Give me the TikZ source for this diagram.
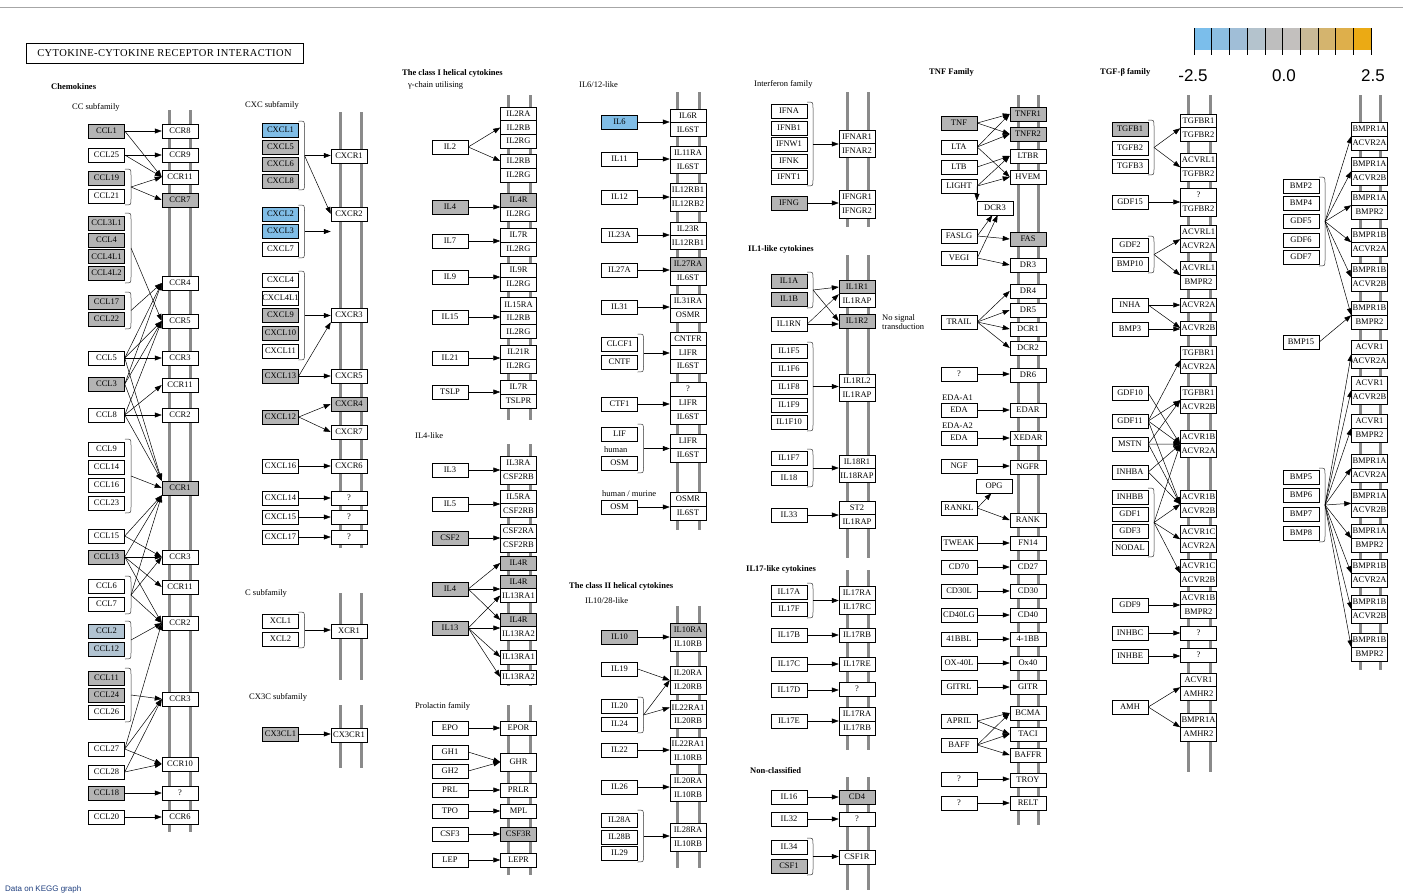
\documentclass[tikz,border=0pt]{standalone}
\usepackage{fontspec}
\setmainfont{Liberation Serif}
\newfontfamily\kbarfont{Liberation Sans}
\usetikzlibrary{arrows.meta}
\definecolor{kgray}{HTML}{B4B4B4}
\definecolor{kblue}{HTML}{80BDE6}
\definecolor{kpale}{HTML}{B2C4D2}
\definecolor{kmemc}{HTML}{8A8A8A}
\definecolor{cbA}{HTML}{7BBEEB}
\definecolor{cbB}{HTML}{8CBEE1}
\definecolor{cbC}{HTML}{A0BED7}
\definecolor{cbD}{HTML}{B4C3CD}
\definecolor{cbE}{HTML}{BEBEBE}
\definecolor{cbF}{HTML}{C3C0BE}
\definecolor{cbG}{HTML}{C8B996}
\definecolor{cbH}{HTML}{D4B46E}
\definecolor{cbI}{HTML}{DEAF4B}
\definecolor{cbJ}{HTML}{EBAA14}
\definecolor{kdata}{HTML}{1F3F7F}
\newcommand{\kf}{\fontsize{8.5}{9}\selectfont}
\newcommand{\klf}{\fontsize{8.5}{9}\selectfont}
\newcommand{\khf}{\fontsize{8.5}{9}\selectfont\bfseries}
\newcommand{\kb}[5][]{\node[kb,#1] (#2) at (#3,#4) {#5};}
\newcommand{\ka}[2]{\draw[arr] (#1) -- (#2);}
\newcommand{\kha}[2]{\draw[arr] (#1.east) -- (#1.east -| #2.west);}
\newcommand{\khb}[2]{\draw[arr] (#1) -- (#1 -| #2.west);}
\newcommand{\kbr}[4]{\draw[brk] (#2,#3) .. controls (#2+6,#3) .. (#2+6,#3+6) -- (#2+6,#4-6) .. controls (#2+6,#4) .. (#2,#4); \coordinate (#1) at (#2+6,{(#3+#4)/2});}
\newcommand{\kmem}[4]{\draw[mem] (#1,#3) -- (#1,#4); \draw[mem] (#2,#3) -- (#2,#4);}
\begin{document}
\begin{tikzpicture}[x=1pt,y=-1pt,
 kb/.style={draw=black,line width=0.5pt,fill=white,minimum width=36pt,minimum height=14pt,inner sep=0pt,font=\kf},
 kgy/.style={fill=kgray}, kbl/.style={fill=kblue}, kpb/.style={fill=kpale},
 arr/.style={-{Triangle[length=7pt,width=5pt]},line width=0.5pt},
 brk/.style={line width=0.5pt,draw=black!80},
 mem/.style={line width=3pt,draw=kmemc},
 lab/.style={anchor=west,inner sep=0pt,font=\klf},
 hdr/.style={anchor=west,inner sep=0pt,font=\khf}]
\useasboundingbox (0,0) rectangle (1403,895);
\clip (0,0) rectangle (1403,895);
\fill[white] (0,0) rectangle (1403,895);
\draw[black!35,line width=1pt] (0,7) -- (1403,7);
% membranes
\kmem{169}{190}{110}{832}
\kmem{340}{361}{112}{548}
\kmem{340}{361}{593}{680}
\kmem{340}{361}{705}{768}
\kmem{508}{530}{95}{420}
\kmem{508}{530}{444}{686}
\kmem{508}{530}{705}{875}
\kmem{677}{699}{92}{530}
\kmem{677}{699}{606}{868}
\kmem{847}{868}{92}{227}
\kmem{847}{868}{255}{558}
\kmem{847}{868}{570}{750}
\kmem{847}{868}{777}{890}
\kmem{1018}{1038}{95}{825}
\kmem{1188}{1210}{95}{772}
\kmem{1360}{1380}{95}{670}
% title and color bar
\node[draw,line width=1pt,minimum width=277pt,minimum height=20pt,inner sep=0pt,font=\fontsize{10.5}{11}\selectfont\addfontfeatures{LetterSpace=4}] (title) at (164.5,53) {CYTOKINE-CYTOKINE RECEPTOR INTERACTION};
\foreach \c [count=\i from 0] in {cbA,cbB,cbC,cbD,cbE,cbF,cbG,cbH,cbI,cbJ} {\fill[\c] (1194+\i*17.7,28) rectangle (1194+\i*17.7+17.7,50);}
\foreach \i in {0,...,10} {\draw[line width=0.6pt] (1194+\i*17.7,28) -- (1194+\i*17.7,55);}
\node[font=\kbarfont\fontsize{17}{17}\selectfont] (cbl) at (1193,76) {-2.5};
\node[font=\kbarfont\fontsize{17}{17}\selectfont] (cbm) at (1284,76) {0.0};
\node[font=\kbarfont\fontsize{17}{17}\selectfont] (cbr) at (1373,76) {2.5};
% headers
\node[hdr] (hchem) at (51,87) {Chemokines};
\node[lab] (hcc) at (72,107) {CC subfamily};
\node[lab] (hcxc) at (245,105) {CXC subfamily};
\node[lab] (hc) at (245,593) {C subfamily};
\node[lab] (hcx3c) at (249,697) {CX3C subfamily};
\node[hdr] (hcl1) at (402,73) {The class I helical cytokines};
\node[lab] (hgam) at (408,85) {γ-chain utilising};
\node[lab] (hil4) at (415,436) {IL4-like};
\node[lab] (hprl) at (415,706) {Prolactin family};
\node[lab] (hil6) at (579,85) {IL6/12-like};
\node[hdr] (hcl2) at (569,586) {The class II helical cytokines};
\node[lab] (hil10) at (585,601) {IL10/28-like};
\node[lab] (hifn) at (754,84) {Interferon family};
\node[hdr] (hil1) at (748,249) {IL1-like cytokines};
\node[lab] (hnos1) at (882,318) {No signal};
\node[lab] (hnos2) at (882,327) {transduction};
\node[hdr] (hil17) at (746,569) {IL17-like cytokines};
\node[hdr] (hnc) at (750,771) {Non-classified};
\node[hdr] (htnf) at (929,72) {TNF Family};
\node[hdr] (htgf) at (1100,72) {TGF-β family};
\node[lab] (hhum) at (604,450) {human};
\node[lab] (hhm) at (602,494) {human / murine};
\node[lab] (heda1) at (942,398) {EDA-A1};
\node[lab] (heda2) at (942,426) {EDA-A2};
\node[anchor=west,inner sep=0pt,text=kdata,font=\kbarfont\fontsize{8}{8}\selectfont] (hdata) at (5,889) {Data on KEGG graph};
% ===== CC subfamily =====
\kb[kgy]{ccl1}{106.5}{131}{CCL1}
\kb{ccl25}{106.5}{155}{CCL25}
\kb[kgy]{ccl19}{106.5}{178}{CCL19}
\kb{ccl21}{106.5}{196}{CCL21}
\kb[kgy]{ccl3l1}{106.5}{223}{CCL3L1}
\kb[kgy]{ccl4}{106.5}{240}{CCL4}
\kb[kgy]{ccl4l1}{106.5}{256.5}{CCL4L1}
\kb[kgy]{ccl4l2}{106.5}{273}{CCL4L2}
\kb[kgy]{ccl17}{106.5}{302}{CCL17}
\kb[kgy]{ccl22}{106.5}{319}{CCL22}
\kb{ccl5}{106.5}{358}{CCL5}
\kb[kgy]{ccl3}{106.5}{384}{CCL3}
\kb{ccl8}{106.5}{415}{CCL8}
\kb{ccl9}{106.5}{449}{CCL9}
\kb{ccl14}{106.5}{467}{CCL14}
\kb{ccl16}{106.5}{485}{CCL16}
\kb{ccl23}{106.5}{503}{CCL23}
\kb{ccl15}{106.5}{536}{CCL15}
\kb[kgy]{ccl13}{106.5}{557}{CCL13}
\kb{ccl6}{106.5}{586}{CCL6}
\kb{ccl7}{106.5}{604}{CCL7}
\kb[kpb]{ccl2}{106.5}{631}{CCL2}
\kb[kpb]{ccl12}{106.5}{649}{CCL12}
\kb[kgy]{ccl11}{106.5}{678}{CCL11}
\kb[kgy]{ccl24}{106.5}{695}{CCL24}
\kb{ccl26}{106.5}{712}{CCL26}
\kb{ccl27}{106.5}{749}{CCL27}
\kb{ccl28}{106.5}{772}{CCL28}
\kb[kgy]{ccl18}{106.5}{793}{CCL18}
\kb{ccl20}{106.5}{817}{CCL20}
\kb{ccr8}{180}{131}{CCR8}
\kb{ccr9}{180}{155}{CCR9}
\kb{ccr11a}{180}{177}{CCR11}
\kb[kgy]{ccr7}{180}{200}{CCR7}
\kb{ccr4}{180}{283}{CCR4}
\kb{ccr5}{180}{321}{CCR5}
\kb{ccr3a}{180}{358}{CCR3}
\kb{ccr11b}{180}{385}{CCR11}
\kb{ccr2a}{180}{415}{CCR2}
\kb[kgy]{ccr1}{180}{488}{CCR1}
\kb{ccr3b}{180}{557}{CCR3}
\kb{ccr11c}{180}{587}{CCR11}
\kb{ccr2b}{180}{623}{CCR2}
\kb{ccr3c}{180}{699}{CCR3}
\kb{ccr10}{180}{764}{CCR10}
\kb{ccq}{180}{793}{?}
\kb{ccr6}{180}{817}{CCR6}
\kbr{b19}{125}{169}{205}
\kbr{b3l1}{125}{213}{283}
\kbr{b17}{125}{292}{329}
\kbr{b9}{125}{439}{513}
\kbr{b6}{125}{576}{614}
\kbr{b2}{125}{621}{659}
\kbr{b11}{125}{668}{722}
\kha{ccl1}{ccr8} \ka{ccl1.east}{ccr11a.west}
\kha{ccl25}{ccr9} \ka{ccl25.east}{ccr11a.west}
\ka{b19}{ccr11a.west} \ka{b19}{ccr7.west}
\ka{b3l1}{ccr5.west}
\ka{b17}{ccr4.west}
\kha{ccl5}{ccr3a} \ka{ccl5.east}{ccr4.west} \ka{ccl5.east}{ccr5.west} \ka{ccl5.east}{ccr1.north west}
\ka{ccl3.east}{ccr4.west} \ka{ccl3.east}{ccr5.west} \ka{ccl3.east}{ccr1.north west}
\ka{ccl8.east}{ccr5.west} \ka{ccl8.east}{ccr11b.west} \kha{ccl8}{ccr2a} \ka{ccl8.east}{ccr1.north west}
\ka{b9}{ccr1.west}
\ka{ccl15.east}{ccr1.south west} \ka{ccl15.east}{ccr3b.west}
\ka{ccl13.east}{ccr1.south west} \kha{ccl13}{ccr3b} \ka{ccl13.east}{ccr11c.west} \ka{ccl13.east}{ccr2b.west}
\ka{b6}{ccr1.south west} \ka{b6}{ccr3b.west} \ka{b6}{ccr2b.west}
\ka{b2}{ccr2b.west}
\ka{b11}{ccr3c.west}
\ka{ccl27.east}{ccr2b.west} \ka{ccl27.east}{ccr3c.west} \ka{ccl27.east}{ccr10.west}
\ka{ccl28.east}{ccr3c.west} \ka{ccl28.east}{ccr10.west}
\kha{ccl18}{ccq} \kha{ccl20}{ccr6}
% ===== CXC / C / CX3C =====
\kb[kbl]{cxcl1}{280.5}{130}{CXCL1}
\kb[kgy]{cxcl5}{280.5}{147}{CXCL5}
\kb[kgy]{cxcl6}{280.5}{164}{CXCL6}
\kb[kgy]{cxcl8}{280.5}{181}{CXCL8}
\kb[kbl]{cxcl2}{280.5}{214}{CXCL2}
\kb[kbl]{cxcl3}{280.5}{231}{CXCL3}
\kb{cxcl7}{280.5}{249}{CXCL7}
\kb{cxcl4}{280.5}{280}{CXCL4}
\kb{cxcl4l1}{280.5}{298}{CXCL4L1}
\kb[kgy]{cxcl9}{280.5}{315}{CXCL9}
\kb[kgy]{cxcl10}{280.5}{333}{CXCL10}
\kb{cxcl11}{280.5}{351}{CXCL11}
\kb[kgy]{cxcl13}{280.5}{376}{CXCL13}
\kb[kgy]{cxcl12}{280.5}{417}{CXCL12}
\kb{cxcl16}{280.5}{466}{CXCL16}
\kb{cxcl14}{280.5}{498}{CXCL14}
\kb{cxcl15}{280.5}{517}{CXCL15}
\kb{cxcl17}{280.5}{537}{CXCL17}
\kb{xcl1}{280.5}{621}{XCL1}
\kb{xcl2}{280.5}{639}{XCL2}
\kb[kgy]{cx3cl1}{280.5}{734}{CX3CL1}
\kb{cxcr1}{349}{156}{CXCR1}
\kb{cxcr2}{349}{214}{CXCR2}
\kb{cxcr3}{349}{315}{CXCR3}
\kb{cxcr5}{349}{376}{CXCR5}
\kb[kgy]{cxcr4}{349}{404}{CXCR4}
\kb{cxcr7}{349}{432}{CXCR7}
\kb{cxcr6}{349}{466}{CXCR6}
\kb{cxq1}{349}{498}{?}
\kb{cxq2}{349}{517}{?}
\kb{cxq3}{349}{537}{?}
\kb{xcr1}{349}{631}{XCR1}
\kb{cx3cr1}{349}{735}{CX3CR1}
\kbr{bc1}{298.5}{121}{190}
\kbr{bc2}{298.5}{205}{258}
\kbr{bc4}{298.5}{271}{360}
\kbr{bx}{298.5}{612}{648}
\khb{bc1}{cxcr1} \ka{bc1}{cxcr2.west}
\khb{bc2}{cxcr2}
\khb{bc4}{cxcr3}
\ka{cxcl13.east}{cxcr3.south west} \kha{cxcl13}{cxcr5}
\ka{cxcl12.east}{cxcr4.west} \ka{cxcl12.east}{cxcr7.west}
\kha{cxcl16}{cxcr6} \kha{cxcl14}{cxq1} \kha{cxcl15}{cxq2} \kha{cxcl17}{cxq3}
\khb{bx}{xcr1}
\kha{cx3cl1}{cx3cr1}
% ===== class I: gamma chain =====
\kb{il2}{450}{147}{IL2}
\kb{il2ra}{518.5}{114}{IL2RA}
\kb{il2rb}{518.5}{127.5}{IL2RB}
\kb{il2rg}{518.5}{141}{IL2RG}
\kb{il2rbb}{518.5}{161}{IL2RB}
\kb{il2rgb}{518.5}{175}{IL2RG}
\kb[kgy]{il4}{450}{207}{IL4}
\kb[kgy]{il4r}{518.5}{200}{IL4R}
\kb{il2rgc}{518.5}{214}{IL2RG}
\kb{il7}{450}{241}{IL7}
\kb{il7r}{518.5}{235}{IL7R}
\kb{il2rgd}{518.5}{249}{IL2RG}
\kb{il9}{450}{277}{IL9}
\kb{il9r}{518.5}{270}{IL9R}
\kb{il2rge}{518.5}{284}{IL2RG}
\kb{il15}{450}{317}{IL15}
\kb{il15ra}{518.5}{304.5}{IL15RA}
\kb{il2rbc}{518.5}{318}{IL2RB}
\kb{il2rgf}{518.5}{331.5}{IL2RG}
\kb{il21}{450}{358}{IL21}
\kb{il21r}{518.5}{352}{IL21R}
\kb{il2rgg}{518.5}{366}{IL2RG}
\kb{tslp}{450}{392}{TSLP}
\kb{il7rb}{518.5}{387}{IL7R}
\kb{tslpr}{518.5}{401}{TSLPR}
\ka{il2.east}{il2rb.west} \ka{il2.east}{il2rbb.west}
\kha{il4}{il4r} \kha{il7}{il7r} \kha{il9}{il9r} \kha{il15}{il2rbc} \kha{il21}{il21r} \kha{tslp}{tslpr}
% ===== IL4-like =====
\kb{il3}{450}{470}{IL3}
\kb{il3ra}{518.5}{463}{IL3RA}
\kb{csf2rb}{518.5}{477}{CSF2RB}
\kb{il5}{450}{504}{IL5}
\kb{il5ra}{518.5}{497}{IL5RA}
\kb{csf2rbb}{518.5}{510.5}{CSF2RB}
\kb[kgy]{csf2}{450}{538}{CSF2}
\kb{csf2ra}{518.5}{531}{CSF2RA}
\kb{csf2rbc}{518.5}{545}{CSF2RB}
\kb[kgy]{il4rb}{518.5}{563}{IL4R}
\kb[kgy]{il4b}{450}{589}{IL4}
\kb[kgy]{il4rc}{518.5}{582}{IL4R}
\kb{il13ra1}{518.5}{595.5}{IL13RA1}
\kb[kgy]{il13}{450}{628}{IL13}
\kb[kgy]{il4rd}{518.5}{620}{IL4R}
\kb{il13ra2}{518.5}{633.5}{IL13RA2}
\kb{il13ra1b}{518.5}{657}{IL13RA1}
\kb{il13ra2b}{518.5}{677}{IL13RA2}
\kha{il3}{il3ra} \kha{il5}{il5ra} \kha{csf2}{csf2ra}
\ka{il4b.east}{il4rb.west} \kha{il4b}{il4rc} \ka{il4b.east}{il4rd.west}
\ka{il13.east}{il13ra1.west} \kha{il13}{il4rd} \ka{il13.east}{il13ra1b.west} \ka{il13.east}{il13ra2b.west}
% ===== Prolactin family =====
\kb{epo}{450}{728}{EPO}
\kb{epor}{518.5}{728}{EPOR}
\kb{gh1}{450}{752}{GH1}
\kb{gh2}{450}{771}{GH2}
\kb[minimum height=18pt]{ghr}{518.5}{762}{GHR}
\kb{prl}{450}{790}{PRL}
\kb{prlr}{518.5}{790}{PRLR}
\kb{tpo}{450}{811}{TPO}
\kb{mpl}{518.5}{811}{MPL}
\kb{csf3}{450}{834}{CSF3}
\kb[kgy]{csf3r}{518.5}{834}{CSF3R}
\kb{lep}{450}{860}{LEP}
\kb{lepr}{518.5}{860}{LEPR}
\kha{epo}{epor} \ka{gh1.east}{ghr.west} \ka{gh2.east}{ghr.west} \kha{prl}{prlr} \kha{tpo}{mpl} \kha{csf3}{csf3r} \kha{lep}{lepr}
% ===== IL6/12-like =====
\kb[kbl]{il6}{619.5}{122}{IL6}
\kb{il6r}{688}{116}{IL6R}
\kb{il6st}{688}{129.5}{IL6ST}
\kb{il11}{619.5}{159}{IL11}
\kb{il11ra}{688}{153}{IL11RA}
\kb{il6stb}{688}{166.5}{IL6ST}
\kb{il12}{619.5}{197}{IL12}
\kb{il12rb1}{688}{190}{IL12RB1}
\kb{il12rb2}{688}{204}{IL12RB2}
\kb{il23a}{619.5}{235}{IL23A}
\kb{il23r}{688}{229}{IL23R}
\kb{il12rb1b}{688}{242.5}{IL12RB1}
\kb{il27a}{619.5}{270}{IL27A}
\kb[kgy]{il27ra}{688}{264}{IL27RA}
\kb{il6stc}{688}{278}{IL6ST}
\kb{il31}{619.5}{307}{IL31}
\kb{il31ra}{688}{301}{IL31RA}
\kb{osmr}{688}{315}{OSMR}
\kb{clcf1}{619.5}{344}{CLCF1}
\kb{cntf}{619.5}{362}{CNTF}
\kb{cntfr}{688}{339}{CNTFR}
\kb{lifr}{688}{352.5}{LIFR}
\kb{il6std}{688}{366}{IL6ST}
\kb{ctf1}{619.5}{404}{CTF1}
\kb{q6}{688}{389}{?}
\kb{lifrb}{688}{403}{LIFR}
\kb{il6ste}{688}{417}{IL6ST}
\kb{lif}{619.5}{434}{LIF}
\kb{osm}{619.5}{463}{OSM}
\kb{lifrc}{688}{441}{LIFR}
\kb{il6stf}{688}{455}{IL6ST}
\kb{osmb}{619.5}{507}{OSM}
\kb{osmrb}{688}{499}{OSMR}
\kb{il6stg}{688}{513}{IL6ST}
\kbr{bcl}{637.5}{334}{372}
\kbr{blif}{637.5}{424}{473}
\kha{il6}{il6r} \kha{il11}{il11ra} \kha{il12}{il12rb1} \kha{il23a}{il23r} \kha{il27a}{il27ra} \kha{il31}{il31ra}
\khb{bcl}{lifr} \kha{ctf1}{lifrb} \khb{blif}{lifrc} \kha{osmb}{osmrb}
% ===== class II =====
\kb[kgy]{il10}{619.5}{637}{IL10}
\kb[kgy]{il10ra}{688}{630}{IL10RA}
\kb{il10rb}{688}{644}{IL10RB}
\kb{il19}{619.5}{669}{IL19}
\kb{il20ra}{688}{673}{IL20RA}
\kb{il20rb}{688}{687}{IL20RB}
\kb{il20}{619.5}{706}{IL20}
\kb{il24}{619.5}{724}{IL24}
\kb{il22ra1}{688}{707.5}{IL22RA1}
\kb{il20rbb}{688}{721}{IL20RB}
\kb{il22}{619.5}{750}{IL22}
\kb{il22ra1b}{688}{744}{IL22RA1}
\kb{il10rbb}{688}{757.5}{IL10RB}
\kb{il26}{619.5}{787}{IL26}
\kb{il20rab}{688}{781}{IL20RA}
\kb{il10rbc}{688}{794.5}{IL10RB}
\kb{il28a}{619.5}{820}{IL28A}
\kb{il28b}{619.5}{837}{IL28B}
\kb{il29}{619.5}{853}{IL29}
\kb{il28ra}{688}{830}{IL28RA}
\kb{il10rbd}{688}{844}{IL10RB}
\kbr{b20}{637.5}{697}{733}
\kbr{b28}{637.5}{810}{862}
\kha{il10}{il10ra} \ka{il19.east}{il20ra.south west} \ka{b20}{il20ra.south west} \ka{b20}{il22ra1.west}
\kha{il22}{il22ra1b} \kha{il26}{il20rab} \khb{b28}{il28ra}
% ===== Interferon =====
\kb{ifna}{789}{111}{IFNA}
\kb{ifnb1}{789}{128}{IFNB1}
\kb{ifnw1}{789}{144}{IFNW1}
\kb{ifnk}{789}{161}{IFNK}
\kb{ifnt1}{789}{177}{IFNT1}
\kb{ifnar1}{857}{137}{IFNAR1}
\kb{ifnar2}{857}{150.5}{IFNAR2}
\kb[kgy]{ifng}{789}{203}{IFNG}
\kb{ifngr1}{857}{197}{IFNGR1}
\kb{ifngr2}{857}{211}{IFNGR2}
\kbr{bifn}{807}{102}{186}
\khb{bifn}{ifnar1} \kha{ifng}{ifngr1}
% ===== IL1-like =====
\kb[kgy]{il1a}{789}{281}{IL1A}
\kb[kgy]{il1b}{789}{299}{IL1B}
\kb{il1rn}{789}{324}{IL1RN}
\kb[kgy]{il1r1}{857}{287}{IL1R1}
\kb{il1rap}{857}{300.5}{IL1RAP}
\kb[kgy]{il1r2}{857}{321}{IL1R2}
\kb{il1f5}{789}{351}{IL1F5}
\kb{il1f6}{789}{369}{IL1F6}
\kb{il1f8}{789}{387}{IL1F8}
\kb{il1f9}{789}{405}{IL1F9}
\kb{il1f10}{789}{422}{IL1F10}
\kb{il1rl2}{857}{381}{IL1RL2}
\kb{il1rapb}{857}{394.5}{IL1RAP}
\kb{il1f7}{789}{458}{IL1F7}
\kb{il18}{789}{478}{IL18}
\kb{il18r1}{857}{462}{IL18R1}
\kb{il18rap}{857}{475.5}{IL18RAP}
\kb{il33}{789}{515}{IL33}
\kb{st2}{857}{508}{ST2}
\kb{il1rapc}{857}{521.5}{IL1RAP}
\kbr{bil1}{807}{272}{308}
\kbr{bil1f}{807}{342}{431}
\kbr{bil18}{807}{449}{487}
\ka{bil1}{il1r1.west} \ka{bil1}{il1r2.west}
\kha{il1rn}{il1r2} \draw[arr,line width=0.4pt] (il1rn.east) -- (il1r1.south west);
\khb{bil1f}{il1rl2} \khb{bil18}{il18r1} \kha{il33}{st2}
% ===== IL17-like =====
\kb{il17a}{789}{592}{IL17A}
\kb{il17f}{789}{609}{IL17F}
\kb{il17ra}{857}{593}{IL17RA}
\kb{il17rc}{857}{607}{IL17RC}
\kb{il17b}{789}{635}{IL17B}
\kb{il17rb}{857}{635}{IL17RB}
\kb{il17c}{789}{664}{IL17C}
\kb{il17re}{857}{664}{IL17RE}
\kb{il17d}{789}{690}{IL17D}
\kb{q17}{857}{689}{?}
\kb{il17e}{789}{721}{IL17E}
\kb{il17rab}{857}{714}{IL17RA}
\kb{il17rbb}{857}{728}{IL17RB}
\kbr{bil17}{807}{583}{618}
\khb{bil17}{il17ra} \kha{il17b}{il17rb} \kha{il17c}{il17re} \kha{il17d}{q17} \kha{il17e}{il17rbb}
% ===== Non-classified =====
\kb{il16}{789}{797}{IL16}
\kb[kgy]{cd4}{857}{797}{CD4}
\kb{il32}{789}{819}{IL32}
\kb{q32}{857}{819}{?}
\kb{il34}{789}{847}{IL34}
\kb[kgy]{csf1}{789}{866}{CSF1}
\kb{csf1r}{857}{857}{CSF1R}
\kbr{bcsf}{807}{838}{875}
\kha{il16}{cd4} \kha{il32}{q32} \khb{bcsf}{csf1r}
% ===== TNF family =====
\kb[kgy]{tnf}{959}{123}{TNF}
\kb{lta}{959}{147}{LTA}
\kb{ltb}{959}{167}{LTB}
\kb{light}{959}{186}{LIGHT}
\kb{faslg}{959}{236}{FASLG}
\kb{vegi}{959}{258}{VEGI}
\kb{trail}{959}{322}{TRAIL}
\kb{tnq1}{959}{374}{?}
\kb{eda1}{959}{410}{EDA}
\kb{eda2}{959}{438}{EDA}
\kb{ngf}{959}{466}{NGF}
\kb{rankl}{959}{508}{RANKL}
\kb{tweak}{959}{543}{TWEAK}
\kb{cd70}{959}{567}{CD70}
\kb{cd30l}{959}{591}{CD30L}
\kb{cd40lg}{959}{615}{CD40LG}
\kb{bbl}{959}{639}{41BBL}
\kb{ox40l}{959}{663}{OX-40L}
\kb{gitrl}{959}{687}{GITRL}
\kb{april}{959}{721}{APRIL}
\kb{baff}{959}{745}{BAFF}
\kb{tnq2}{959}{779}{?}
\kb{tnq3}{959}{803}{?}
\kb[kgy]{tnfr1}{1028}{114}{TNFR1}
\kb[kgy]{tnfr2}{1028}{134}{TNFR2}
\kb{ltbr}{1028}{156}{LTBR}
\kb{hvem}{1028}{177}{HVEM}
\kb{dcr3}{995}{208}{DCR3}
\kb[kgy]{fas}{1028}{239}{FAS}
\kb{dr3}{1028}{265}{DR3}
\kb{dr4}{1028}{291}{DR4}
\kb{dr5}{1028}{310}{DR5}
\kb{dcr1}{1028}{329}{DCR1}
\kb{dcr2}{1028}{348}{DCR2}
\kb{dr6}{1028}{375}{DR6}
\kb{edar}{1028}{410}{EDAR}
\kb{xedar}{1028}{438}{XEDAR}
\kb{ngfr}{1028}{467}{NGFR}
\kb{opg}{994}{486}{OPG}
\kb{rank}{1028}{520}{RANK}
\kb{fn14}{1028}{543}{FN14}
\kb{cd27}{1028}{567}{CD27}
\kb{cd30}{1028}{591}{CD30}
\kb{cd40}{1028}{615}{CD40}
\kb{bb}{1028}{639}{4-1BB}
\kb{ox40}{1028}{663}{Ox40}
\kb{gitr}{1028}{687}{GITR}
\kb{bcma}{1028}{713}{BCMA}
\kb{taci}{1028}{734}{TACI}
\kb{baffr}{1028}{755}{BAFFR}
\kb{troy}{1028}{780}{TROY}
\kb{relt}{1028}{803}{RELT}
\ka{tnf.east}{tnfr1.west} \ka{tnf.east}{tnfr2.west}
\ka{lta.east}{tnfr1.west} \ka{lta.east}{tnfr2.west} \ka{lta.east}{hvem.west}
\ka{ltb.east}{ltbr.west}
\ka{light.east}{ltbr.west} \ka{light.east}{hvem.west} \ka{light.east}{dcr3.north west}
\ka{faslg.east}{dcr3.250} \ka{faslg.east}{fas.west}
\ka{vegi.east}{dcr3.290} \ka{vegi.east}{dr3.west}
\ka{trail.east}{dr4.west} \ka{trail.east}{dr5.west} \ka{trail.east}{dcr1.west} \ka{trail.east}{dcr2.west}
\kha{tnq1}{dr6} \kha{eda1}{edar} \kha{eda2}{xedar} \kha{ngf}{ngfr}
\ka{rankl.east}{opg.250} \ka{rankl.east}{rank.west}
\kha{tweak}{fn14} \kha{cd70}{cd27} \kha{cd30l}{cd30} \kha{cd40lg}{cd40} \kha{bbl}{bb} \kha{ox40l}{ox40} \kha{gitrl}{gitr}
\ka{april.east}{bcma.west} \ka{april.east}{taci.west}
\ka{baff.east}{bcma.west} \ka{baff.east}{taci.west} \ka{baff.east}{baffr.west}
\kha{tnq2}{troy} \kha{tnq3}{relt}
% ===== TGF-beta family =====
\kb[kgy]{tgfb1}{1130}{129}{TGFB1}
\kb{tgfb2}{1130}{148}{TGFB2}
\kb{tgfb3}{1130}{166}{TGFB3}
\kb{gdf15}{1130}{202}{GDF15}
\kb{gdf2}{1130}{245}{GDF2}
\kb{bmp10}{1130}{264}{BMP10}
\kb{inha}{1130}{305}{INHA}
\kb{bmp3}{1130}{329}{BMP3}
\kb{gdf10}{1130}{393}{GDF10}
\kb{gdf11}{1130}{421}{GDF11}
\kb{mstn}{1130}{444}{MSTN}
\kb{inhba}{1130}{472}{INHBA}
\kb{inhbb}{1130}{497}{INHBB}
\kb{gdf1}{1130}{514}{GDF1}
\kb{gdf3}{1130}{531}{GDF3}
\kb{nodal}{1130}{548}{NODAL}
\kb{gdf9}{1130}{605}{GDF9}
\kb{inhbc}{1130}{633}{INHBC}
\kb{inhbe}{1130}{656}{INHBE}
\kb{amh}{1130}{707}{AMH}
\kb{tgfbr1}{1198.5}{121}{TGFBR1}
\kb{tgfbr2}{1198.5}{134.5}{TGFBR2}
\kb{acvrl1}{1198.5}{160}{ACVRL1}
\kb{tgfbr2b}{1198.5}{174}{TGFBR2}
\kb{tgq1}{1198.5}{195}{?}
\kb{tgfbr2c}{1198.5}{209}{TGFBR2}
\kb{acvrl1b}{1198.5}{232}{ACVRL1}
\kb{acvr2a}{1198.5}{245.5}{ACVR2A}
\kb{acvrl1c}{1198.5}{268}{ACVRL1}
\kb{bmpr2}{1198.5}{282}{BMPR2}
\kb{acvr2ab}{1198.5}{305}{ACVR2A}
\kb{acvr2b}{1198.5}{328}{ACVR2B}
\kb{tgfbr1b}{1198.5}{353}{TGFBR1}
\kb{acvr2ac}{1198.5}{366.5}{ACVR2A}
\kb{tgfbr1c}{1198.5}{393}{TGFBR1}
\kb{acvr2bb}{1198.5}{406.5}{ACVR2B}
\kb{acvr1b}{1198.5}{437}{ACVR1B}
\kb{acvr2ad}{1198.5}{450.5}{ACVR2A}
\kb{acvr1bb}{1198.5}{497}{ACVR1B}
\kb{acvr2bc}{1198.5}{510.5}{ACVR2B}
\kb{acvr1c}{1198.5}{532}{ACVR1C}
\kb{acvr2ae}{1198.5}{545.5}{ACVR2A}
\kb{acvr1cb}{1198.5}{566}{ACVR1C}
\kb{acvr2bd}{1198.5}{579.5}{ACVR2B}
\kb{acvr1bc}{1198.5}{598}{ACVR1B}
\kb{bmpr2b}{1198.5}{611.5}{BMPR2}
\kb{tgq2}{1198.5}{633}{?}
\kb{tgq3}{1198.5}{655}{?}
\kb{acvr1}{1198.5}{680}{ACVR1}
\kb{amhr2}{1198.5}{693.5}{AMHR2}
\kb{bmpr1a}{1198.5}{720}{BMPR1A}
\kb{amhr2b}{1198.5}{734}{AMHR2}
\kbr{btg}{1148}{120}{175}
\kbr{bgdf2}{1148}{236}{273}
\kbr{bnod}{1148}{488}{557}
\ka{btg}{tgfbr1.south west} \ka{btg}{acvrl1.south west}
\kha{gdf15}{tgfbr2c}
\ka{bgdf2}{acvrl1b.south west} \ka{bgdf2}{acvrl1c.south west}
\kha{inha}{acvr2ab} \ka{inha.east}{acvr2b.west} \kha{bmp3}{acvr2b}
\ka{gdf10.east}{acvr1b.south west}
\ka{gdf11.east}{tgfbr1b.south west} \ka{gdf11.east}{tgfbr1c.south west} \ka{gdf11.east}{acvr1b.south west} \ka{gdf11.east}{acvr1bb.south west}
\ka{mstn.east}{tgfbr1c.south west} \ka{mstn.east}{acvr1b.south west} \ka{mstn.east}{acvr1bb.south west}
\ka{inhba.east}{acvr1b.south west} \ka{inhba.east}{acvr1bb.south west}
\ka{bnod}{acvr1b.south west} \ka{bnod}{acvr1bb.south west} \ka{bnod}{acvr1c.south west} \ka{bnod}{acvr1cb.south west}
\kha{gdf9}{acvr1bc} \kha{inhbc}{tgq2} \kha{inhbe}{tgq3}
\ka{amh.east}{acvr1.south west} \ka{amh.east}{bmpr1a.south west}
% ===== BMP =====
\kb{bmp2}{1301}{186}{BMP2}
\kb{bmp4}{1301}{203}{BMP4}
\kb{gdf5}{1301}{221}{GDF5}
\kb{gdf6}{1301}{240}{GDF6}
\kb{gdf7}{1301}{257}{GDF7}
\kb{bmp15}{1301}{342}{BMP15}
\kb{bmp5}{1301}{477}{BMP5}
\kb{bmp6}{1301}{495}{BMP6}
\kb{bmp7}{1301}{514}{BMP7}
\kb{bmp8}{1301}{533}{BMP8}
\foreach \yy/\ta/\tb [count=\i] in {129/BMPR1A/ACVR2A,164/BMPR1A/ACVR2B,198/BMPR1A/BMPR2,235/BMPR1B/ACVR2A,270/BMPR1B/ACVR2B,308/BMPR1B/BMPR2,347/ACVR1/ACVR2A,383/ACVR1/ACVR2B,421/ACVR1/BMPR2,461/BMPR1A/ACVR2A,496/BMPR1A/ACVR2B,531/BMPR1A/BMPR2,566/BMPR1B/ACVR2A,602/BMPR1B/ACVR2B,640/BMPR1B/BMPR2} {
 \node[kb] (bmt\i) at (1369.5,\yy) {\ta};
 \node[kb] (bmb\i) at (1369.5,\yy+14) {\tb};
}
\kbr{bbmp}{1319}{177}{266}
\kbr{bbmpb}{1319}{468}{542}
\foreach \i in {1,...,6} {\draw[arr] (bbmp) -- (bmt\i.south west);}
\draw[arr] (bmp15.east) -- (bmt6.south west);
\foreach \i in {7,...,15} {\draw[arr] (bbmpb) -- (bmt\i.south west);}
\end{tikzpicture}
\end{document}
